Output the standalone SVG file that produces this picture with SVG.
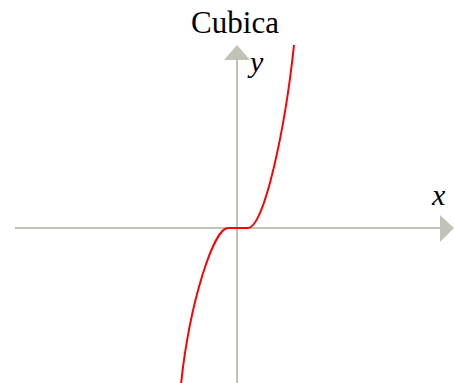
<svg xmlns="http://www.w3.org/2000/svg" width="454" height="383" viewBox="0 0 454 383">
<style>
.axis{stroke:#c2c2b6;stroke-width:2;fill:none}
.head{fill:#c2c2b6}
.curve{stroke:#ff0000;stroke-width:2;fill:none;stroke-linejoin:round}
.title{font-family:"Liberation Serif",serif;font-size:31px;fill:#000}
.lbl{font-family:"Liberation Serif",serif;font-style:italic;font-size:30px;fill:#000}
</style>
<rect width="454" height="383" fill="#fff"/>
<g id="axes">
<line class="axis" x1="15" y1="228" x2="442" y2="228"/>
<polygon class="head" points="454,228 440,215 440,242"/>
<line class="axis" x1="237" y1="383" x2="237" y2="58"/>
<polygon class="head" points="237,45 224,60 250,60"/>
</g>
<g id="curve">
<path class="curve" d="M181,384 C190,300 214,228 228,228 L248,228 C264,228 285,130 294,45"/>
</g>
<text class="title" x="235" y="33" text-anchor="middle">Cubica</text>
<text class="lbl" x="250" y="72">y</text>
<text class="lbl" x="432" y="205">x</text>
</svg>
